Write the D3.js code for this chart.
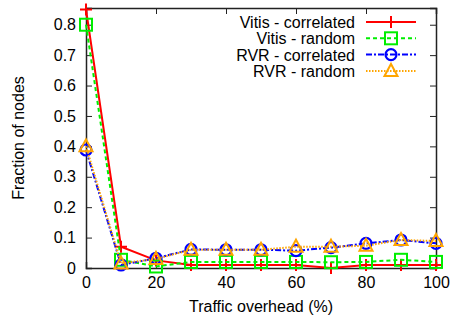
<!DOCTYPE html>
<html>
<head>
<meta charset="utf-8">
<script src="https://cdn.jsdelivr.net/npm/d3@7"></script>
<style>
  body { margin: 0; background: #fff; }
  text { font-family: "Liberation Sans", Arial, sans-serif; fill: #000; }
</style>
</head>
<body>
<div id="chart"></div>
<script>
// data
const overhead = [0, 10, 20, 30, 40, 50, 60, 70, 80, 90, 100];
const vitisCorrelated = [0.85, 0.07, 0.025, 0.01, 0.01, 0.01, 0.01, 0.0, 0.01, 0.01, 0.01];
const vitisRandom = [0.80, 0.027, 0.005, 0.02, 0.02, 0.02, 0.02, 0.019, 0.02, 0.027, 0.02];
const rvrCorrelated = [0.388, 0.01, 0.032, 0.061, 0.06, 0.06, 0.057, 0.067, 0.081, 0.092, 0.081];
const rvrRandom = [0.40, 0.015, 0.03, 0.06, 0.06, 0.06, 0.07, 0.07, 0.073, 0.092, 0.089];
const seriesNames = ["Vitis - correlated", "Vitis - random", "RVR - correlated", "RVR - random"];
const xTicks = [0, 20, 40, 60, 80, 100];
const yTicks = [0, 0.1, 0.2, 0.3, 0.4, 0.5, 0.6, 0.7, 0.8];

const margin = { top: 8, right: 15, bottom: 57, left: 86 },
      width = 451 - margin.left - margin.right,
      height = 325 - margin.top - margin.bottom;

const svg = d3.select("#chart").append("svg")
    .attr("width", 451)
    .attr("height", 325)
  .append("g")
    .attr("transform", `translate(${margin.left},${margin.top})`);

const x = d3.scaleLinear().domain([0, 100]).range([0, width]);
const y = d3.scaleLinear().domain([0, 0.855]).range([height, 0]);

// axes with inward ticks (mirrored on top / right)
svg.append("g")
    .attr("transform", `translate(0,${height})`)
    .call(d3.axisBottom(x).tickValues(xTicks).tickSize(-6).tickPadding(9).tickFormat(d3.format("d")));
svg.append("g")
    .call(d3.axisLeft(y).tickValues(yTicks).tickSize(-6).tickPadding(10).tickFormat(d => d === 0 ? "0" : d3.format(".1f")(d)));
svg.append("g")
    .call(d3.axisTop(x).tickValues(xTicks).tickSize(-6).tickFormat(""));
svg.append("g")
    .attr("transform", `translate(${width},0)`)
    .call(d3.axisRight(y).tickValues(yTicks).tickSize(-6).tickFormat(""));

svg.selectAll(".domain").attr("stroke", "#222").attr("stroke-width", 1.5);
svg.selectAll(".tick line").attr("stroke", "#222");
svg.selectAll(".tick text").style("font-size", "16px").style("font-family", "Liberation Sans, Arial, sans-serif");

// axis labels
svg.append("text")
    .attr("x", 175)
    .attr("y", height + 44)
    .style("text-anchor", "middle")
    .style("font-size", "16px")
    .text("Traffic overhead (%)");
svg.append("text")
    .attr("transform", "rotate(-90)")
    .attr("x", -130)
    .attr("y", -62)
    .style("text-anchor", "middle")
    .style("font-size", "16px")
    .text("Fraction of nodes");

const series = [
  { name: seriesNames[0], values: vitisCorrelated, color: "#ff0000", dash: null, marker: "plus" },
  { name: seriesNames[1], values: vitisRandom, color: "#00ee00", dash: "4,3", marker: "square" },
  { name: seriesNames[2], values: rvrCorrelated, color: "#0000ff", dash: "6,2,2,2", marker: "circle" },
  { name: seriesNames[3], values: rvrRandom, color: "#ffa500", dash: "1.5,1.5", marker: "triangle" }
];

const line = d3.line()
    .x((d, i) => x(overhead[i]))
    .y(d => y(d));

function drawMarker(g, type, color) {
  if (type === "plus") {
    g.append("path").attr("d", "M-6,0H6M0,-6V6")
      .attr("stroke", color).attr("stroke-width", 2).attr("fill", "none");
  } else if (type === "square") {
    g.append("rect").attr("x", -6).attr("y", -6).attr("width", 12).attr("height", 12)
      .attr("stroke", color).attr("stroke-width", 2).attr("fill", "none");
  } else if (type === "circle") {
    g.append("circle").attr("r", 5.5)
      .attr("stroke", color).attr("stroke-width", 2.2).attr("fill", "none");
  } else {
    g.append("path").attr("d", "M0,-7L6.5,5H-6.5Z")
      .attr("stroke", color).attr("stroke-width", 2).attr("fill", "none");
  }
}

series.forEach(s => {
  svg.append("path")
    .datum(s.values)
    .attr("fill", "none")
    .attr("stroke", s.color)
    .attr("stroke-width", 2)
    .attr("stroke-dasharray", s.dash)
    .attr("d", line);
  s.values.forEach((v, i) => {
    const g = svg.append("g").attr("transform", `translate(${x(overhead[i])},${y(v)})`);
    drawMarker(g, s.marker, s.color);
  });
});

// legend
const legend = svg.append("g").attr("transform", `translate(${355 - margin.left},${22 - margin.top})`);
series.forEach((s, i) => {
  const row = legend.append("g").attr("transform", `translate(0,${i * 16.3})`);
  row.append("text")
    .attr("x", 0)
    .attr("y", 6)
    .style("text-anchor", "end")
    .style("font-size", "16px")
    .text(s.name);
  row.append("line")
    .attr("x1", 11).attr("x2", 61)
    .attr("stroke", s.color)
    .attr("stroke-width", 2)
    .attr("stroke-dasharray", s.dash);
  drawMarker(row.append("g").attr("transform", "translate(36,0)"), s.marker, s.color);
});
</script>
</body>
</html>
